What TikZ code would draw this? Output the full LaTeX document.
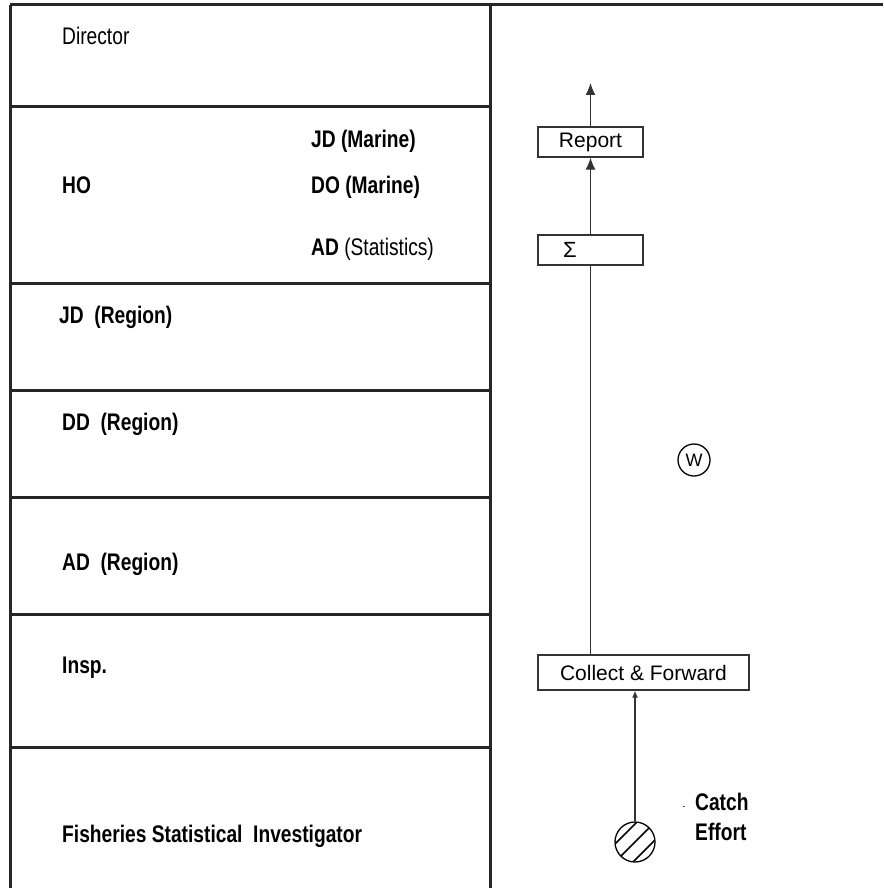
\documentclass[tikz,border=0pt]{standalone}
\usepackage{fontspec}
\setmainfont{Liberation Sans}[FakeStretch=0.8]
\newfontfamily\boxfont{Liberation Sans}
\usetikzlibrary{arrows.meta}

\begin{document}
\begin{tikzpicture}[x=1pt, y=-1pt,
    rule/.style ={line width=3pt, draw=black!85},
    rank/.style ={anchor=base west, inner sep=0pt, font=\fontsize{24}{28}\selectfont},
    boss/.style ={rank, font=\fontsize{24}{28}\selectfont\bfseries},
    stage/.style ={draw=black!80, line width=1.3pt, minimum height=30pt, inner sep=0pt,
                   font=\boxfont\fontsize{21}{24}\selectfont},
    flow/.style ={line width=1.3pt, draw=black!80}]
   \useasboundingbox (0,0) rectangle (883,888);
   % the table of ranks
   \draw[rule] (10,5) -- (883,5);
   \draw[rule] (10,5) -- (10,888);
   \draw[rule] (490,5) -- (490,888);
   \foreach \y in {107,283,390,497,614,747}
      \draw[rule] (10,\y) -- (490,\y);
   \node[rank] (director) at (62,45)  {Director};
   \node[boss] (jdm)  at (311,147) {JD (Marine)};
   \node[boss] (ho)   at (62,193)  {HO};
   \node[boss] (dom)  at (311,193) {DO (Marine)};
   \node[rank] (ads)  at (311,255) {\textbf{AD} (Statistics)};
   \node[boss] (jdr)  at (59,323)  {JD\ \ (Region)};
   \node[boss] (ddr)  at (62,430)  {DD\ \ (Region)};
   \node[boss] (adr)  at (62,570)  {AD\ \ (Region)};
   \node[boss] (insp) at (62,673)  {Insp.};
   \node[boss] (fsi)  at (62,842)  {Fisheries Statistical\ \ Investigator};
   % the flow of data
   \node[stage, minimum width=105pt] (report) at (590.5,142) {Report};
   \node[stage, minimum width=105pt] (sum) at (590.5,250) {};
   \node[inner sep=0pt, font=\boxfont\fontsize{22}{24}\selectfont] (sigma) at (570,250) {Σ};
   \node[stage, minimum width=211pt, minimum height=35pt] (collect) at (643.5,672.5) {Collect \& Forward};
   \node[draw, circle, line width=1.3pt, minimum size=40pt, inner sep=0pt] (catchpt) at (635,842) {};
   \node[draw, circle, line width=1.3pt, minimum size=32pt, inner sep=0pt,
         font=\boxfont\fontsize{18}{20}\selectfont] (w) at (694,460) {W};
   \coordinate (out) at (590.5,83);
   \draw[flow, -{Latex[length=12pt,width=10pt]}] (report.north) -- (out);
   \draw[flow, -{Latex[length=12pt,width=10pt]}] (sum.north) -- (report.south);
   \draw[flow] (collect.north -| sum) -- (sum.south);
   \draw[flow, -{Latex[length=7pt,width=6pt]}] (catchpt.north) -- (catchpt.north |- collect.south);
   \begin{scope}
      \clip (catchpt.center) circle (20);
      \foreach \s in {-9,0,9}
         \draw[line width=1.6pt] (635+\s-30,842+\s+30) -- (635+\s+30,842+\s-30);
   \end{scope}
   \node[inner sep=0pt, font=\fontsize{10}{12}\selectfont] (tick) at (684,808) {-};
   \node[boss] (catch)  at (695,810) {Catch};
   \node[boss] (effort) at (695,840) {Effort};
 \end{tikzpicture}
\end{document}
